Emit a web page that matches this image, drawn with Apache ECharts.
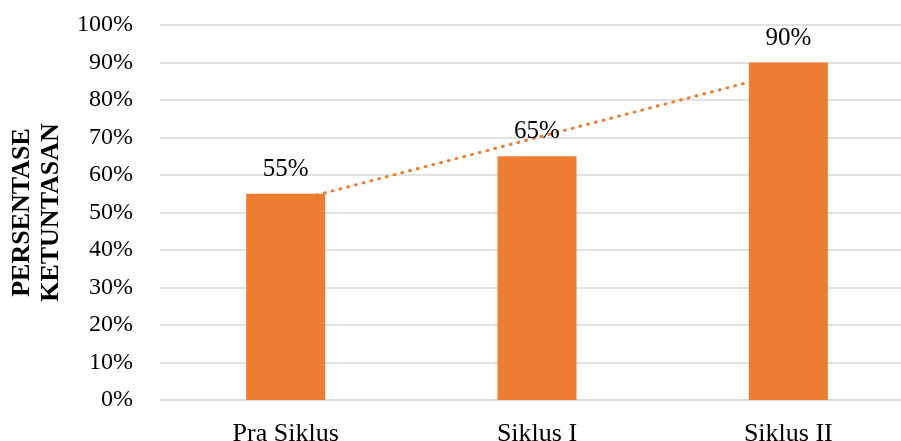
<!DOCTYPE html>
<html>
<head>
<meta charset="utf-8">
<script src="https://cdn.jsdelivr.net/npm/echarts@6/dist/echarts.min.js"></script>
<style>html,body{margin:0;padding:0;background:#fff}#c{width:901px;height:441px}</style>
</head>
<body>
<div id="c"></div>
<script>
var categories = ['Pra Siklus', 'Siklus I', 'Siklus II'];
var values = [55, 65, 90];
var trendValues = [52.5, 70, 87.5];
var yTicks = [0, 10, 20, 30, 40, 50, 60, 70, 80, 90, 100];
var axisTitle = 'PERSENTASE\nKETUNTASAN';

var font = '"Liberation Serif", "Times New Roman", serif';
var chart = echarts.init(document.getElementById('c'), null, {renderer: 'canvas'});
chart.setOption({
  animation: false,
  backgroundColor: '#fff',
  grid: {left: 160, top: 25, width: 754, height: 375, containLabel: false, outerBoundsMode: 'none'},
  xAxis: {
    type: 'category',
    data: categories,
    axisLine: {show: true, lineStyle: {color: '#d9d9d9', width: 1.5}},
    axisTick: {show: false},
    axisLabel: {color: '#000', fontFamily: font, fontSize: 26, margin: 21}
  },
  yAxis: {
    type: 'value',
    min: yTicks[0],
    max: yTicks[yTicks.length - 1],
    interval: 10,
    name: axisTitle,
    nameLocation: 'middle',
    nameRotate: 90,
    nameGap: 94,
    nameTextStyle: {color: '#000', fontFamily: font, fontSize: 26, fontWeight: 'bold', lineHeight: 29},
    axisLine: {show: false},
    axisTick: {show: false},
    axisLabel: {color: '#000', fontFamily: font, fontSize: 24, margin: 27, formatter: '{value}%'},
    splitLine: {lineStyle: {color: '#d9d9d9', width: 1.5}}
  },
  series: [
    {
      type: 'line',
      data: trendValues,
      z: 1,
      symbol: 'none',
      silent: true,
      lineStyle: {color: '#ED7D31', width: 3, type: [1, 7], cap: 'round'}
    },
    {
      type: 'bar',
      data: values,
      z: 3,
      barWidth: 79,
      itemStyle: {color: '#ED7D31'},
      label: {show: true, position: 'top', distance: 12, color: '#000', fontFamily: font, fontSize: 25, formatter: '{c}%'}
    }
  ]
});
</script>
</body>
</html>
